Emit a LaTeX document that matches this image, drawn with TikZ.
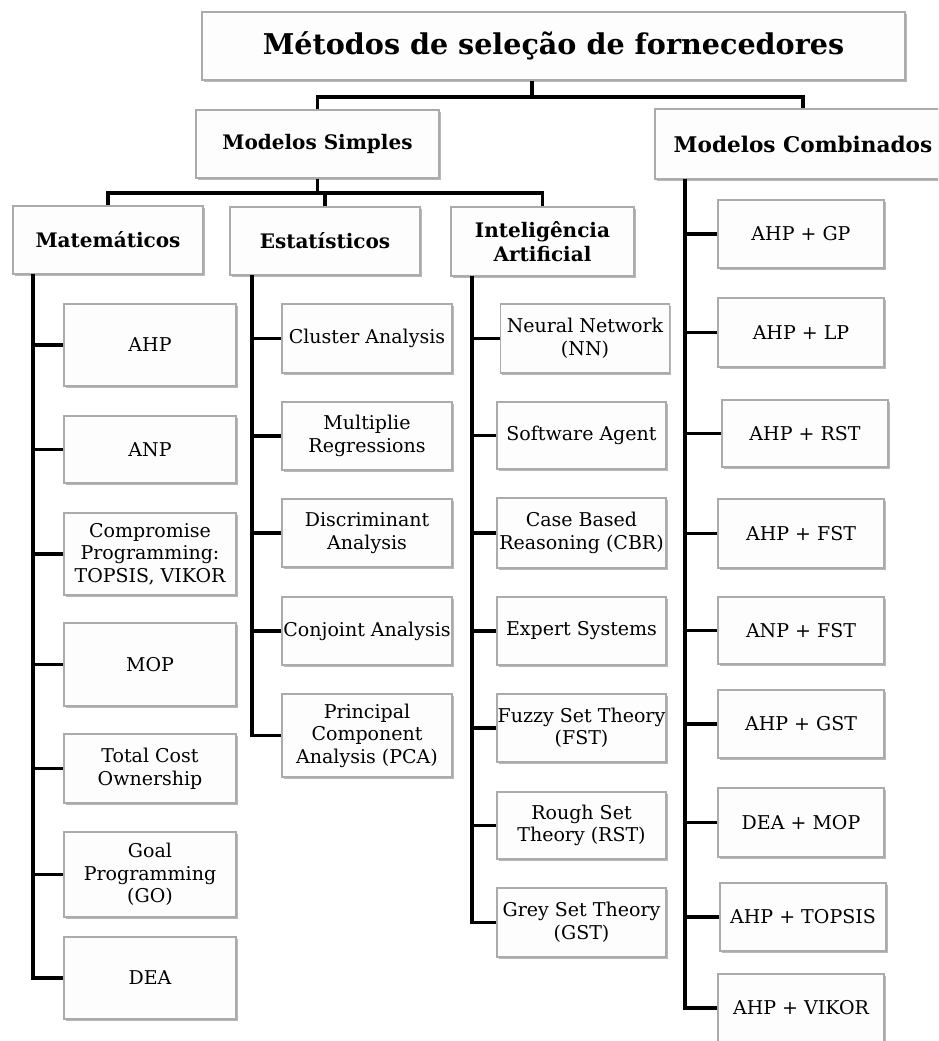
\documentclass[tikz,border=0pt]{standalone}
\usepackage{fontspec}
\setmainfont{DejaVu Serif}
\usetikzlibrary{shadows}
\definecolor{boxline}{HTML}{ABABAB}
\definecolor{boxfill}{HTML}{FDFDFD}
\tikzset{
  card/.style={draw=boxline, line width=1.1pt, fill=boxfill, inner sep=0pt,
    align=center,
    drop shadow={shadow xshift=1.8pt, shadow yshift=-2.2pt, fill=black, opacity=0.28}},
  leaf/.style={card, font=\fontsize{19}{22.5}\selectfont},
  head/.style={card, font=\bfseries\fontsize{20}{24}\selectfont},
  topbox/.style={card, font=\bfseries\fontsize{28.6}{32}\selectfont},
  link/.style={line width=3.1pt, black}
}
\begin{document}
\begin{tikzpicture}[x=1pt, y=-1pt]
\useasboundingbox (0,0) rectangle (938,1041);
\clip (0,0) rectangle (938,1041);
\fill[white] (0,0) rectangle (938,1041);

% top levels
\node[topbox, minimum width=703pt, minimum height=68pt] (title) at (553.5,46) {Métodos de seleção de fornecedores};
\node[head, minimum width=243pt, minimum height=68pt] (simples) at (317.5,144) {Modelos Simples};
\node[head, minimum width=296pt, minimum height=70pt, font=\bfseries\fontsize{21.6}{24}\selectfont] (comb) at (803,144) {Modelos Combinados};
\node[head, minimum width=190pt, minimum height=68pt] (mat) at (108,240) {Matemáticos};
\node[head, minimum width=190pt, minimum height=68pt] (est) at (325,241) {Estatísticos};
\node[head, minimum width=183pt, minimum height=69pt] (ia) at (542.5,241.5) {Inteligência\\Artificial};

% mathematical methods
\begin{scope}[every node/.style={leaf, minimum width=172pt}]
\node[minimum height=82pt] (ahp1) at (150,345) {AHP};
\node[minimum height=67pt] (anp1) at (150,449.5) {ANP};
\node[minimum height=82pt] (comp) at (150,554) {Compromise\\Programming:\\TOPSIS, VIKOR};
\node[minimum height=83pt] (mop1) at (150,664.5) {MOP};
\node[minimum height=69pt] (tco) at (150,768.5) {Total Cost\\Ownership};
\node[minimum height=85pt] (goal) at (150,874.5) {Goal\\Programming\\(GO)};
\node[minimum height=82pt] (dea1) at (150,978) {DEA};
\end{scope}

% statistical methods
\begin{scope}[every node/.style={leaf, minimum width=170pt}]
\node[minimum height=69pt] (clu) at (367,338.5) {Cluster Analysis};
\node[minimum height=68pt] (mul) at (367,436) {Multiplie\\Regressions};
\node[minimum height=68pt] (dis) at (367,533) {Discriminant\\Analysis};
\node[minimum height=68pt] (con) at (367,631) {Conjoint Analysis};
\node[minimum height=83pt] (pca) at (367,735.5) {Principal\\Component\\Analysis (PCA)};
\end{scope}

% artificial intelligence methods
\begin{scope}[every node/.style={leaf, minimum width=169pt}]
\node[minimum height=69pt] (nn) at (585,338.5) {Neural Network\\(NN)};
\node[minimum height=67pt] (sa) at (581.5,435.5) {Software Agent};
\node[minimum height=70pt] (cbr) at (581.5,533) {Case Based\\Reasoning (CBR)};
\node[minimum height=68pt] (es) at (581.5,631) {Expert Systems};
\node[minimum height=68pt] (fst) at (581.5,728) {Fuzzy Set Theory\\(FST)};
\node[minimum height=67pt] (rst) at (581.5,825.5) {Rough Set\\Theory (RST)};
\node[minimum height=69pt] (gst) at (581.5,922.5) {Grey Set Theory\\(GST)};
\end{scope}

% combined models
\begin{scope}[every node/.style={leaf, minimum width=166pt}]
\node[minimum height=68pt] (c1) at (801,234) {AHP + GP};
\node[minimum height=69pt] (c2) at (801,332.5) {AHP + LP};
\node[minimum height=67pt] (c3) at (805,433.5) {AHP + RST};
\node[minimum height=69pt] (c4) at (801,533.5) {AHP + FST};
\node[minimum height=67pt] (c5) at (801,630.5) {ANP + FST};
\node[minimum height=68pt] (c6) at (801,724) {AHP + GST};
\node[minimum height=69pt] (c7) at (801,822.5) {DEA + MOP};
\node[minimum height=68pt] (c8) at (803,917) {AHP + TOPSIS};
\node[minimum height=68pt] (c9) at (801,1008) {AHP + VIKOR};
\end{scope}

% upper connectors
\coordinate (busA) at (532,97);
\draw[link] (title.south -| busA) -- (busA);
\draw[link] (simples.north) |- (busA) -| (comb.north);
\coordinate (busB) at (325,193);
\draw[link] (simples.south) -- (simples.south |- busB);
\draw[link] (mat.north) |- (busB) -| (ia.north);
\draw[link] (est.north) -- (est.north |- busB);

% trunks and branches
\coordinate (mT) at (33,274);
\draw[link] (mT) |- (dea1.west);
\foreach \n in {ahp1,anp1,comp,mop1,tco,goal}
  \draw[link] (mT |- \n.west) -- (\n.west);

\coordinate (sT) at (252,275);
\draw[link] (sT) |- (pca.west);
\foreach \n in {clu,mul,dis,con}
  \draw[link] (sT |- \n.west) -- (\n.west);

\coordinate (iT) at (472,276);
\draw[link] (iT) |- (gst.west);
\foreach \n in {nn,sa,cbr,es,fst,rst}
  \draw[link] (iT |- \n.west) -- (\n.west);

\coordinate (cT) at (685,179);
\draw[link] (cT) |- (c9.west);
\foreach \n in {c1,c2,c3,c4,c5,c6,c7,c8}
  \draw[link] (cT |- \n.west) -- (\n.west);
\end{tikzpicture}
\end{document}
